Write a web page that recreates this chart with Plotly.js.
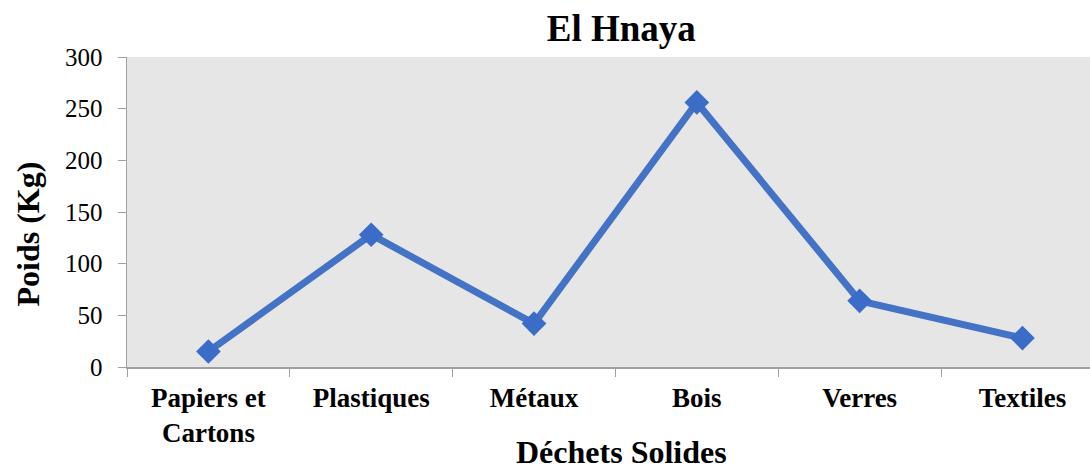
<!DOCTYPE html>
<html>
<head>
<meta charset="utf-8">
<script src="https://cdn.plot.ly/plotly-3.0.1.min.js"></script>
<style>html,body{margin:0;padding:0;background:#fff;}#chart{width:1090px;height:471px;}</style>
</head>
<body>
<div id="chart"></div>
<script>
var categories = ["Papiers et<br>Cartons", "Plastiques", "Métaux", "Bois", "Verres", "Textiles"];
var poids = [15, 128, 42, 256, 64, 28];
var yTicks = [0, 50, 100, 150, 200, 250, 300];

var serif = "Liberation Serif, Times New Roman, serif";

var trace = {
  x: categories,
  y: poids,
  type: "scatter",
  mode: "lines+markers",
  line: {color: "#4472C4", width: 7},
  marker: {symbol: "diamond", size: 19, color: "#3B6CC7", line: {width: 0}},
  cliponaxis: false,
  hoverinfo: "x+y"
};

var layout = {
  width: 1090,
  height: 471,
  paper_bgcolor: "#ffffff",
  plot_bgcolor: "#e6e6e6",
  margin: {l: 127, r: 0, t: 57, b: 104},
  showlegend: false,
  title: {
    text: "<b>El Hnaya</b>",
    font: {family: serif, size: 37, color: "#000"},
    xref: "container", x: 0.57, xanchor: "center",
    yref: "container", y: 0.94, yanchor: "middle"
  },
  xaxis: {
    type: "category",
    range: [-0.5, 5.415],
    tickson: "boundaries",
    ticks: "outside",
    ticklen: 8,
    tickcolor: "#a0a0a0",
    ticklabelstandoff: 6,
    showline: true,
    linecolor: "#a0a0a0",
    linewidth: 1.5,
    showgrid: false,
    zeroline: false,
    tickfont: {family: serif, size: 27, color: "#000", weight: "bold"},
    fixedrange: true
  },
  yaxis: {
    range: [0, 300],
    tickvals: yTicks,
    ticktext: yTicks.map(String),
    ticks: "outside",
    ticklen: 8,
    tickcolor: "#a0a0a0",
    ticklabelstandoff: 10,
    showline: true,
    linecolor: "#a0a0a0",
    linewidth: 1.5,
    showgrid: false,
    zeroline: false,
    tickfont: {family: serif, size: 25, color: "#000"},
    fixedrange: true
  },
  annotations: [
    {
      text: "<b>Déchets Solides</b>",
      xref: "paper", yref: "paper",
      x: (621 - 127) / 963, y: (367 - 452) / 310,
      xanchor: "center", yanchor: "middle",
      showarrow: false,
      font: {family: serif, size: 32, color: "#000"}
    },
    {
      text: "<b>Poids (Kg)</b>",
      xref: "paper", yref: "paper",
      x: (28 - 127) / 963, y: (367 - 234.5) / 310,
      xanchor: "center", yanchor: "middle",
      textangle: -90,
      showarrow: false,
      font: {family: serif, size: 32, color: "#000"}
    }
  ]
};

Plotly.newPlot("chart", [trace], layout, {displayModeBar: false, staticPlot: true});
</script>
</body>
</html>
